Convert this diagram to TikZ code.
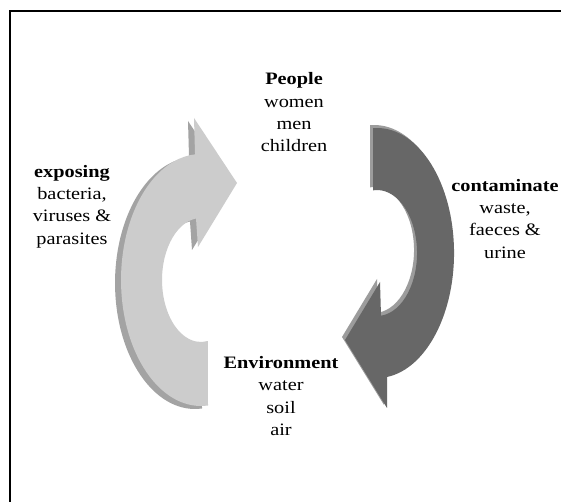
\documentclass[tikz,border=0pt]{standalone}
\usepackage{fontspec}
\setmainfont{Liberation Serif}
\definecolor{lfront}{HTML}{CCCCCC}
\definecolor{lback}{HTML}{A3A3A3}
\definecolor{rfront}{HTML}{676767}
\definecolor{rback}{HTML}{9C9C9C}
\begin{document}
\begin{tikzpicture}[x=1pt,y=1pt,
  lbl/.style={align=center, anchor=north, inner sep=0pt,
    font=\fontsize{20.3}{26}\selectfont, yscale=0.86, transform shape}]
\useasboundingbox (0,0) rectangle (561,502);
\clip (0,0) rectangle (561,502);
\fill[white] (0,0) rectangle (561,502);
% frame
\draw[line width=2pt] (10,-10) -- (10,491) -- (580,491);
% left (light) arrow
\def\leftarrowpath{(208,96.5) arc[start angle=275,end angle=94.3,x radius=80pt,y radius=126pt]
  -- (194,384) -- (237,319) -- (198,255) -- (196,283.5)
  arc[start angle=97.4,end angle=280,x radius=39pt,y radius=62pt] -- cycle}
\fill[lback, shift={(-6,-3)}] \leftarrowpath;
\fill[lfront] \leftarrowpath;
% right (dark) arrow
\def\rightarrowpath{(373,373.8) arc[start angle=93,end angle=-82.5,x radius=77pt,y radius=125pt]
  -- (387,94) -- (345,162) -- (380,220) -- (381,186.3)
  arc[start angle=-84.3,end angle=95.7,x radius=40pt,y radius=63pt] -- cycle}
\fill[rback, shift={(-3,3)}] \rightarrowpath;
\fill[rfront] \rightarrowpath;
% labels
\node[lbl] (people) at (294,429.4) {\textbf{People}\\women\\men\\children};
\node[lbl] (exposing) at (72,337) {\textbf{exposing}\\bacteria,\\viruses \&\\parasites};
\node[lbl] (contam) at (505,323) {\textbf{contaminate}\\waste,\\faeces \&\\urine};
\node[lbl] (env) at (281,146) {\textbf{Environment}\\water\\soil\\air};
\end{tikzpicture}
\end{document}
